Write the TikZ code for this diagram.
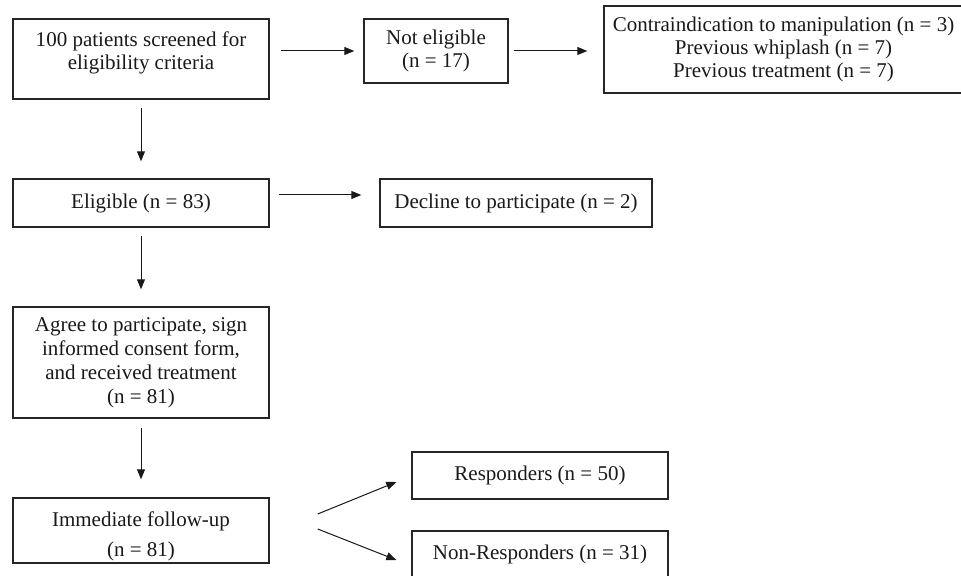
\documentclass[tikz,border=0pt]{standalone}
\usepackage{fontspec}
\setmainfont{Liberation Serif}
\usepackage{tikz}
\usetikzlibrary{arrows.meta,calc,positioning}

\begin{document}
\begin{tikzpicture}[x=0.5pt,y=-0.5pt,
  box/.style={draw=black!85, line width=0.7pt, align=center, inner sep=2pt, text=black!90, font=\fontsize{10.5}{11.5}\selectfont},
  arr/.style={-{Triangle[length=5pt,width=4pt]}, line width=0.5pt, draw=black!90}]
\useasboundingbox (0,0) rectangle (961,576);
\node[box, minimum width=128pt, minimum height=40pt] (screen) at (141,59) {100 patients screened for\\eligibility criteria\rule[-8.3pt]{0pt}{8.3pt}};
\node[box, minimum width=72pt, minimum height=32pt] (noteligible) at (436,51) {Not eligible\\(n = 17)};
\node[box, minimum width=179.5pt, minimum height=43.5pt] (contra) at (783.5,49.5) {Contraindication to manipulation (n = 3)\\Previous whiplash (n = 7)\\Previous treatment (n = 7)};
\node[box, minimum width=128pt, minimum height=24pt] (eligible) at (141,203) {Eligible (n = 83)};
\node[box, minimum width=136pt, minimum height=24pt] (decline) at (516,203) {Decline to participate (n = 2)};
\node[box, minimum width=128pt, minimum height=55.5pt, font=\fontsize{10.5}{12}\selectfont] (agree) at (141,362.5) {Agree to participate, sign\\informed consent form,\\ and received treatment\\(n = 81)};
\node[box, minimum width=128pt, minimum height=32.5pt, inner ysep=0pt] (followup) at (141,530.5) {\rule{0pt}{13.3pt}Immediate follow-up\\[3.5pt](n = 81)};
\node[box, minimum width=128pt, minimum height=23.5pt] (responders) at (540,475.5) {Responders (n = 50)};
\node[box, minimum width=128pt, minimum height=23.5pt] (nonresp) at (540,554.5) {Non-Responders (n = 31)};
\draw[arr, shorten <=5.5pt, shorten >=4.5pt] (screen.east |- noteligible.west) -- (noteligible.west);
\draw[arr, shorten <=2.5pt, shorten >=8pt] (noteligible.east) -- (noteligible.east -| contra.west);
\draw[arr, shorten <=4pt, shorten >=8.5pt] (screen.south) -- (eligible.north);
\draw[arr, shorten <=4.5pt, shorten >=9pt] ($(eligible.east)+(0,-8)$) -- ($(decline.west)+(0,-8)$);
\draw[arr, shorten <=4pt, shorten >=8.5pt] (eligible.south) -- (agree.north);
\draw[arr, shorten <=4.5pt, shorten >=9pt] (agree.south) -- (followup.north);
\draw[arr] ($(followup.east)+(48,-16.5)$) -- ($(responders.west)+(-15,6.5)$);
\draw[arr] ($(followup.east)+(48,-1.5)$) -- ($(nonresp.west)+(-15,5.5)$);
\end{tikzpicture}
\end{document}
